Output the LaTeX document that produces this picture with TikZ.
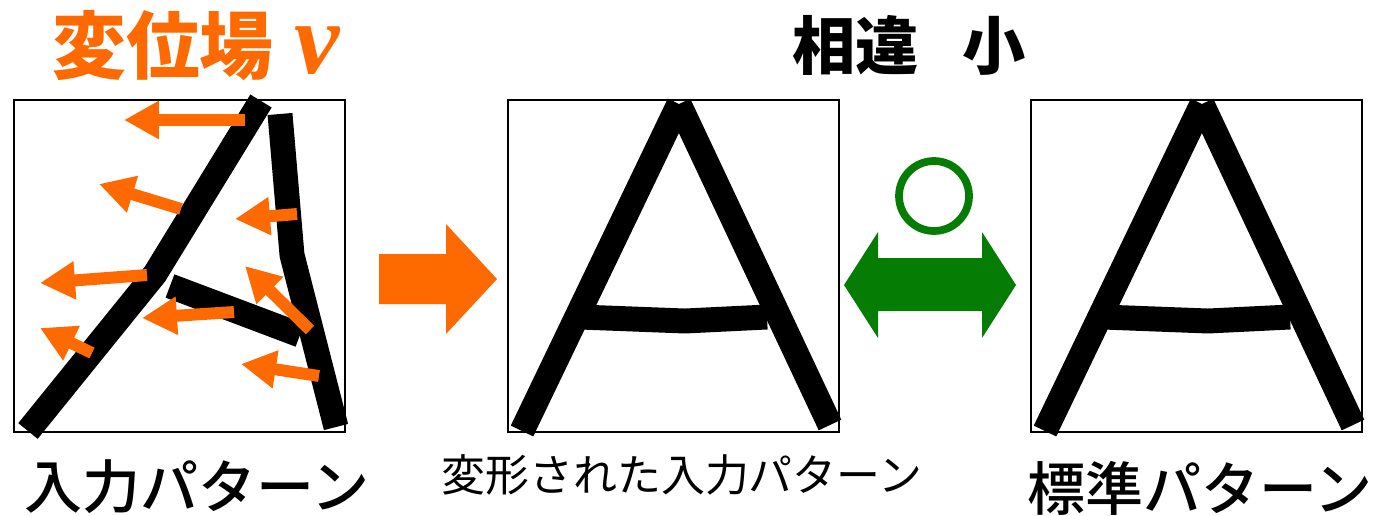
\documentclass[tikz,border=0pt]{standalone}
\usepackage{fontspec}
\newfontfamily\jp{Noto Sans CJK JP}
\newfontfamily\jpm{Noto Sans CJK JP Medium}
\newfontfamily\vfont{Liberation Serif}
\usetikzlibrary{arrows.meta}
\definecolor{dispor}{RGB}{255,106,0}
\definecolor{matchgr}{RGB}{5,125,5}
\begin{document}
\begin{tikzpicture}[x=0.02cm,y=-0.02cm,
  frame/.style={draw, line width=1.1pt, minimum width=6.62cm, minimum height=6.64cm, inner sep=0pt, outer sep=0pt},
  glyphline/.style={line width=14.2pt, line cap=butt, line join=miter},
  oarrow/.style={dispor, line width=6.8pt, -{Triangle[length=0.7cm, width=0.72cm]}},
  lbl/.style={inner sep=0pt, outer sep=0pt}]
\useasboundingbox (0,0) rectangle (1378,515);

% frames
\node[frame] (b1) at (179.5,266) {};
\node[frame] (b2) at (673.5,266) {};
\node[frame] (b3) at (1196.5,266) {};

% distorted A (input)
\draw[glyphline] (28,431) -- (155,274) -- (261,101);
\draw[glyphline] (280,114) -- (292,255) -- (336,427);
\draw[glyphline] (170,286) -- (300,335);

% displacement arrows
\draw[oarrow] (245,120) -- (124,120);
\draw[oarrow] (181,209) -- (99,184);
\draw[oarrow] (297,214) -- (235,219);
\draw[oarrow] (147,275) -- (40,283);
\draw[oarrow] (310,330) -- (245,266);
\draw[oarrow] (234,312) -- (142,318);
\draw[oarrow] (92,353) -- (40,328);
\draw[oarrow] (319,376) -- (241,364);

% deformed A
\draw[glyphline] (522,431) -- (679,104);
\draw[glyphline] (679,104) -- (830,425);
\draw[glyphline] (580,317) -- (685,321) -- (767,317);

% standard A
\draw[glyphline] (1045,431) -- (1202,104);
\draw[glyphline] (1202,104) -- (1353,425);
\draw[glyphline] (1103,317) -- (1208,321) -- (1290,317);

% orange block arrow
\fill[dispor] (379,254) -- (446,254) -- (446,224) -- (497,279) -- (446,334) -- (446,304) -- (379,304) -- cycle;

% green double arrow and circle
\fill[matchgr] (844,285) -- (878,232) -- (878,258) -- (982,258) -- (982,232) -- (1016,285) -- (982,338) -- (982,311) -- (878,311) -- (878,338) -- cycle;
\node[circle, draw=matchgr, line width=4.4pt, minimum size=1.4cm, inner sep=0pt] (ok) at (934,196) {};

% texts
\node[lbl, text=dispor] (t1) at (163,46) {\fontsize{42}{42}\selectfont\jp\bfseries 変位場};
\node[lbl, text=dispor, anchor=base, font=\fontsize{58}{58}\selectfont\vfont\bfseries\itshape, text height=0.5em, text depth=0pt] (t1v) at (317,73) {v};
\node[lbl] (t2) at (909,45) {\fontsize{36}{36}\selectfont\jp\bfseries 相違\hspace{0.7em}小};
\node[lbl] (t3) at (197,487) {\fontsize{33}{33}\selectfont\jpm 入力パターン};
\node[lbl] (t4) at (682,475) {\fontsize{25}{25}\selectfont\jp 変形された入力パターン};
\node[lbl] (t5) at (1200,488) {\fontsize{33}{33}\selectfont\jpm 標準パターン};
\end{tikzpicture}
\end{document}
